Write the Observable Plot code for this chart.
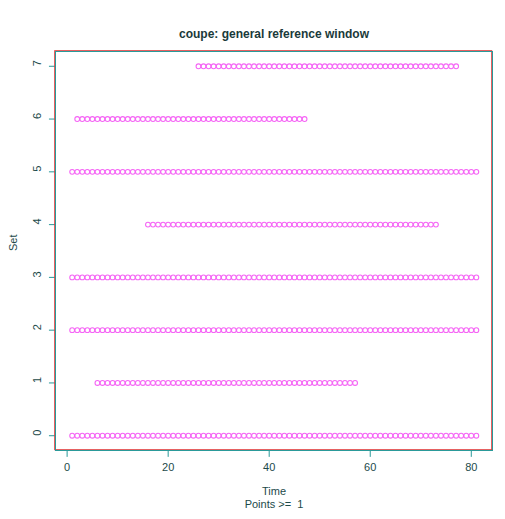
<!DOCTYPE html>
<html>
<head>
<meta charset="utf-8">
<script src="https://cdn.jsdelivr.net/npm/d3@7"></script>
<script src="https://cdn.jsdelivr.net/npm/@observablehq/plot@0.6"></script>
<style>
  html, body { margin: 0; padding: 0; background: #fff; }
  #chart svg { display: block; }
</style>
</head>
<body>
<div id="chart"></div>
<script>
// Each set is observed at every integer time from firstTime to lastTime
const sets      = [0, 1, 2, 3, 4, 5, 6, 7];
const firstTime = [1, 6, 1, 1, 16, 1, 2, 26];
const lastTime  = [81, 57, 81, 81, 73, 81, 47, 77];
const xTicks = [0, 20, 40, 60, 80];
const yTicks = [0, 1, 2, 3, 4, 5, 6, 7];
const title = "coupe: general reference window";
const xLabel = "Time";
const subLabel = "Points >=  1";
const yLabel = "Set";

const points = [];
sets.forEach((s, i) => {
  for (let t = firstTime[i]; t <= lastTime[i]; t++) points.push({time: t, set: s});
});

const xDom = [-2.3, 84.2];
const yDom = [-0.28, 7.28];
const textColor = "#1d4a4a";
const teal = "#2a9a9a";
const red = "#e03a3a";
const font = "Liberation Sans, Arial, Helvetica, sans-serif";

const plot = Plot.plot({
  width: 505,
  height: 519,
  marginLeft: 55,
  marginRight: 13,
  marginTop: 51,
  marginBottom: 69,
  style: {fontFamily: font, fontSize: "11px", color: textColor, background: "#fff"},
  x: {domain: xDom, axis: null},
  y: {domain: yDom, axis: null},
  marks: [
    Plot.dot(points, {x: "time", y: "set", r: 2.4, stroke: "#f565f5", strokeWidth: 1.1, fill: "none"}),
    // x ticks & labels (outside the frame)
    Plot.ruleX(xTicks, {x: d => d, y1: yDom[0], y2: yDom[0] - 0.13, stroke: teal}),
    Plot.text(xTicks, {x: d => d, frameAnchor: "bottom", dy: 20, text: d => String(d), fill: textColor, fontSize: 11}),
    // y ticks & labels
    Plot.ruleY(yTicks, {y: d => d, x1: xDom[0], x2: xDom[0] - 1.2, stroke: teal}),
    Plot.text(yTicks, {y: d => d, frameAnchor: "left", dx: -18, rotate: -90, text: d => String(d), fill: textColor, fontSize: 11}),
    // frames: red offset, teal on top
    Plot.frame({stroke: red, dx: -0.8, dy: -0.8}),
    Plot.frame({stroke: teal}),
    // title and axis labels
    Plot.text([title], {frameAnchor: "top", dy: -22, text: d => d, fill: "#1a3a3a", fontWeight: "bold", fontSize: 12}),
    Plot.text([xLabel], {frameAnchor: "bottom", dy: 44, text: d => d, fill: textColor, fontSize: 11}),
    Plot.text([subLabel], {frameAnchor: "bottom", dy: 57, text: d => d, fill: textColor, fontSize: 11}),
    Plot.text([yLabel], {frameAnchor: "left", dx: -42, rotate: -90, text: d => d, fill: textColor, fontSize: 11})
  ]
});

document.getElementById("chart").appendChild(plot);
</script>
</body>
</html>
